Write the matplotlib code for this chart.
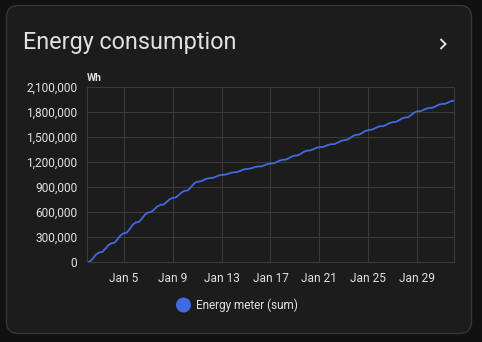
import numpy as np
import pandas as pd
import matplotlib
matplotlib.use("Agg")
import matplotlib.pyplot as plt
from matplotlib.patches import FancyBboxPatch, Circle
from matplotlib.ticker import FuncFormatter

plt.rcParams['font.family'] = ['Roboto', 'DejaVu Sans']

# cumulative energy in thousands of Wh at 00/06/12/18 h for each day, Jan 2 .. Jan 31, then Feb 1 00h
energy_kwh = [
    0, 6, 46, 92,
    115, 121, 159, 203,
    225, 231, 273, 321,
    345, 352, 397, 449,
    475, 481, 523, 571,
    595, 600, 631, 667,
    685, 689, 719, 753,
    770, 774, 804, 837,
    854, 860, 898, 942,
    964, 966, 981, 998,
    1006, 1008, 1022, 1037,
    1045, 1047, 1057, 1070,
    1076, 1078, 1092, 1108,
    1116, 1118, 1128, 1140,
    1146, 1148, 1160, 1175,
    1182, 1184, 1200, 1217,
    1226, 1229, 1246, 1267,
    1277, 1280, 1301, 1325,
    1337, 1339, 1353, 1370,
    1378, 1380, 1392, 1407,
    1414, 1416, 1433, 1452,
    1462, 1465, 1488, 1513,
    1526, 1529, 1549, 1572,
    1584, 1586, 1602, 1621,
    1630, 1632, 1649, 1668,
    1678, 1681, 1700, 1723,
    1734, 1738, 1764, 1793,
    1808, 1810, 1824, 1841,
    1849, 1851, 1868, 1887,
    1896, 1898, 1912, 1929,
    1937,
]
times = pd.date_range("2024-01-02", periods=len(energy_kwh), freq="6h")
energy_wh = np.array(energy_kwh) * 1000

y_ticks = [0, 300000, 600000, 900000, 1200000, 1500000, 1800000, 2100000]
x_ticks = pd.to_datetime(["2024-01-05", "2024-01-09", "2024-01-13", "2024-01-17",
                          "2024-01-21", "2024-01-25", "2024-01-29"])
x_tick_labels = ["Jan 5", "Jan 9", "Jan 13", "Jan 17", "Jan 21", "Jan 25", "Jan 29"]

W, H = 482, 342
fig = plt.figure(figsize=(W / 100, H / 100), dpi=100)
fig.patch.set_facecolor("#111111")

# card background drawn in pixel coordinates
bg = fig.add_axes([0, 0, 1, 1])
bg.set_xlim(0, W)
bg.set_ylim(H, 0)
bg.axis("off")
card = FancyBboxPatch((6.5, 5.5), 465, 328, boxstyle="round,pad=0,rounding_size=12",
                      facecolor="#1c1c1c", edgecolor="#363636", linewidth=1)
bg.add_patch(card)
bg.text(23, 42, "Energy consumption", color="#e1e1e1", fontsize=16.8, va="center", ha="left")
# chevron in the header
bg.plot([440.5, 445.5, 440.5], [39, 44, 49], color="#e1e1e1", linewidth=1.4,
        solid_capstyle="butt", solid_joinstyle="miter")
bg.text(87, 78, "Wh", color="#e1e1e1", fontsize=7.5, fontweight="bold", va="center", ha="left")
bg.add_patch(Circle((183.5, 305), 7.5, facecolor="#4169e1", edgecolor="none"))
bg.text(196, 305, "Energy meter (sum)", color="#e1e1e1", fontsize=8.5, va="center", ha="left")

ax = fig.add_axes([87 / W, 1 - 262 / H, (454 - 87) / W, (262 - 87) / H])
ax.set_facecolor("none")
ax.plot(times, energy_wh, color="#4169e1", linewidth=1.3)

ax.set_xlim(times[0], times[-1])
ax.set_ylim(0, 2100000)
ax.set_yticks(y_ticks)
ax.yaxis.set_major_formatter(FuncFormatter(lambda v, p: f"{int(v):,}"))
ax.set_xticks(x_ticks)
ax.set_xticklabels(x_tick_labels)
ax.grid(True, color="#3a3a3a", linewidth=0.8)
ax.set_axisbelow(True)
for s in ax.spines.values():
    s.set_color("#3a3a3a")
    s.set_linewidth(0.8)
ax.tick_params(length=0, colors="#e1e1e1", labelsize=8.6, pad=7)

fig.savefig("out.png", dpi=100, facecolor=fig.get_facecolor())
